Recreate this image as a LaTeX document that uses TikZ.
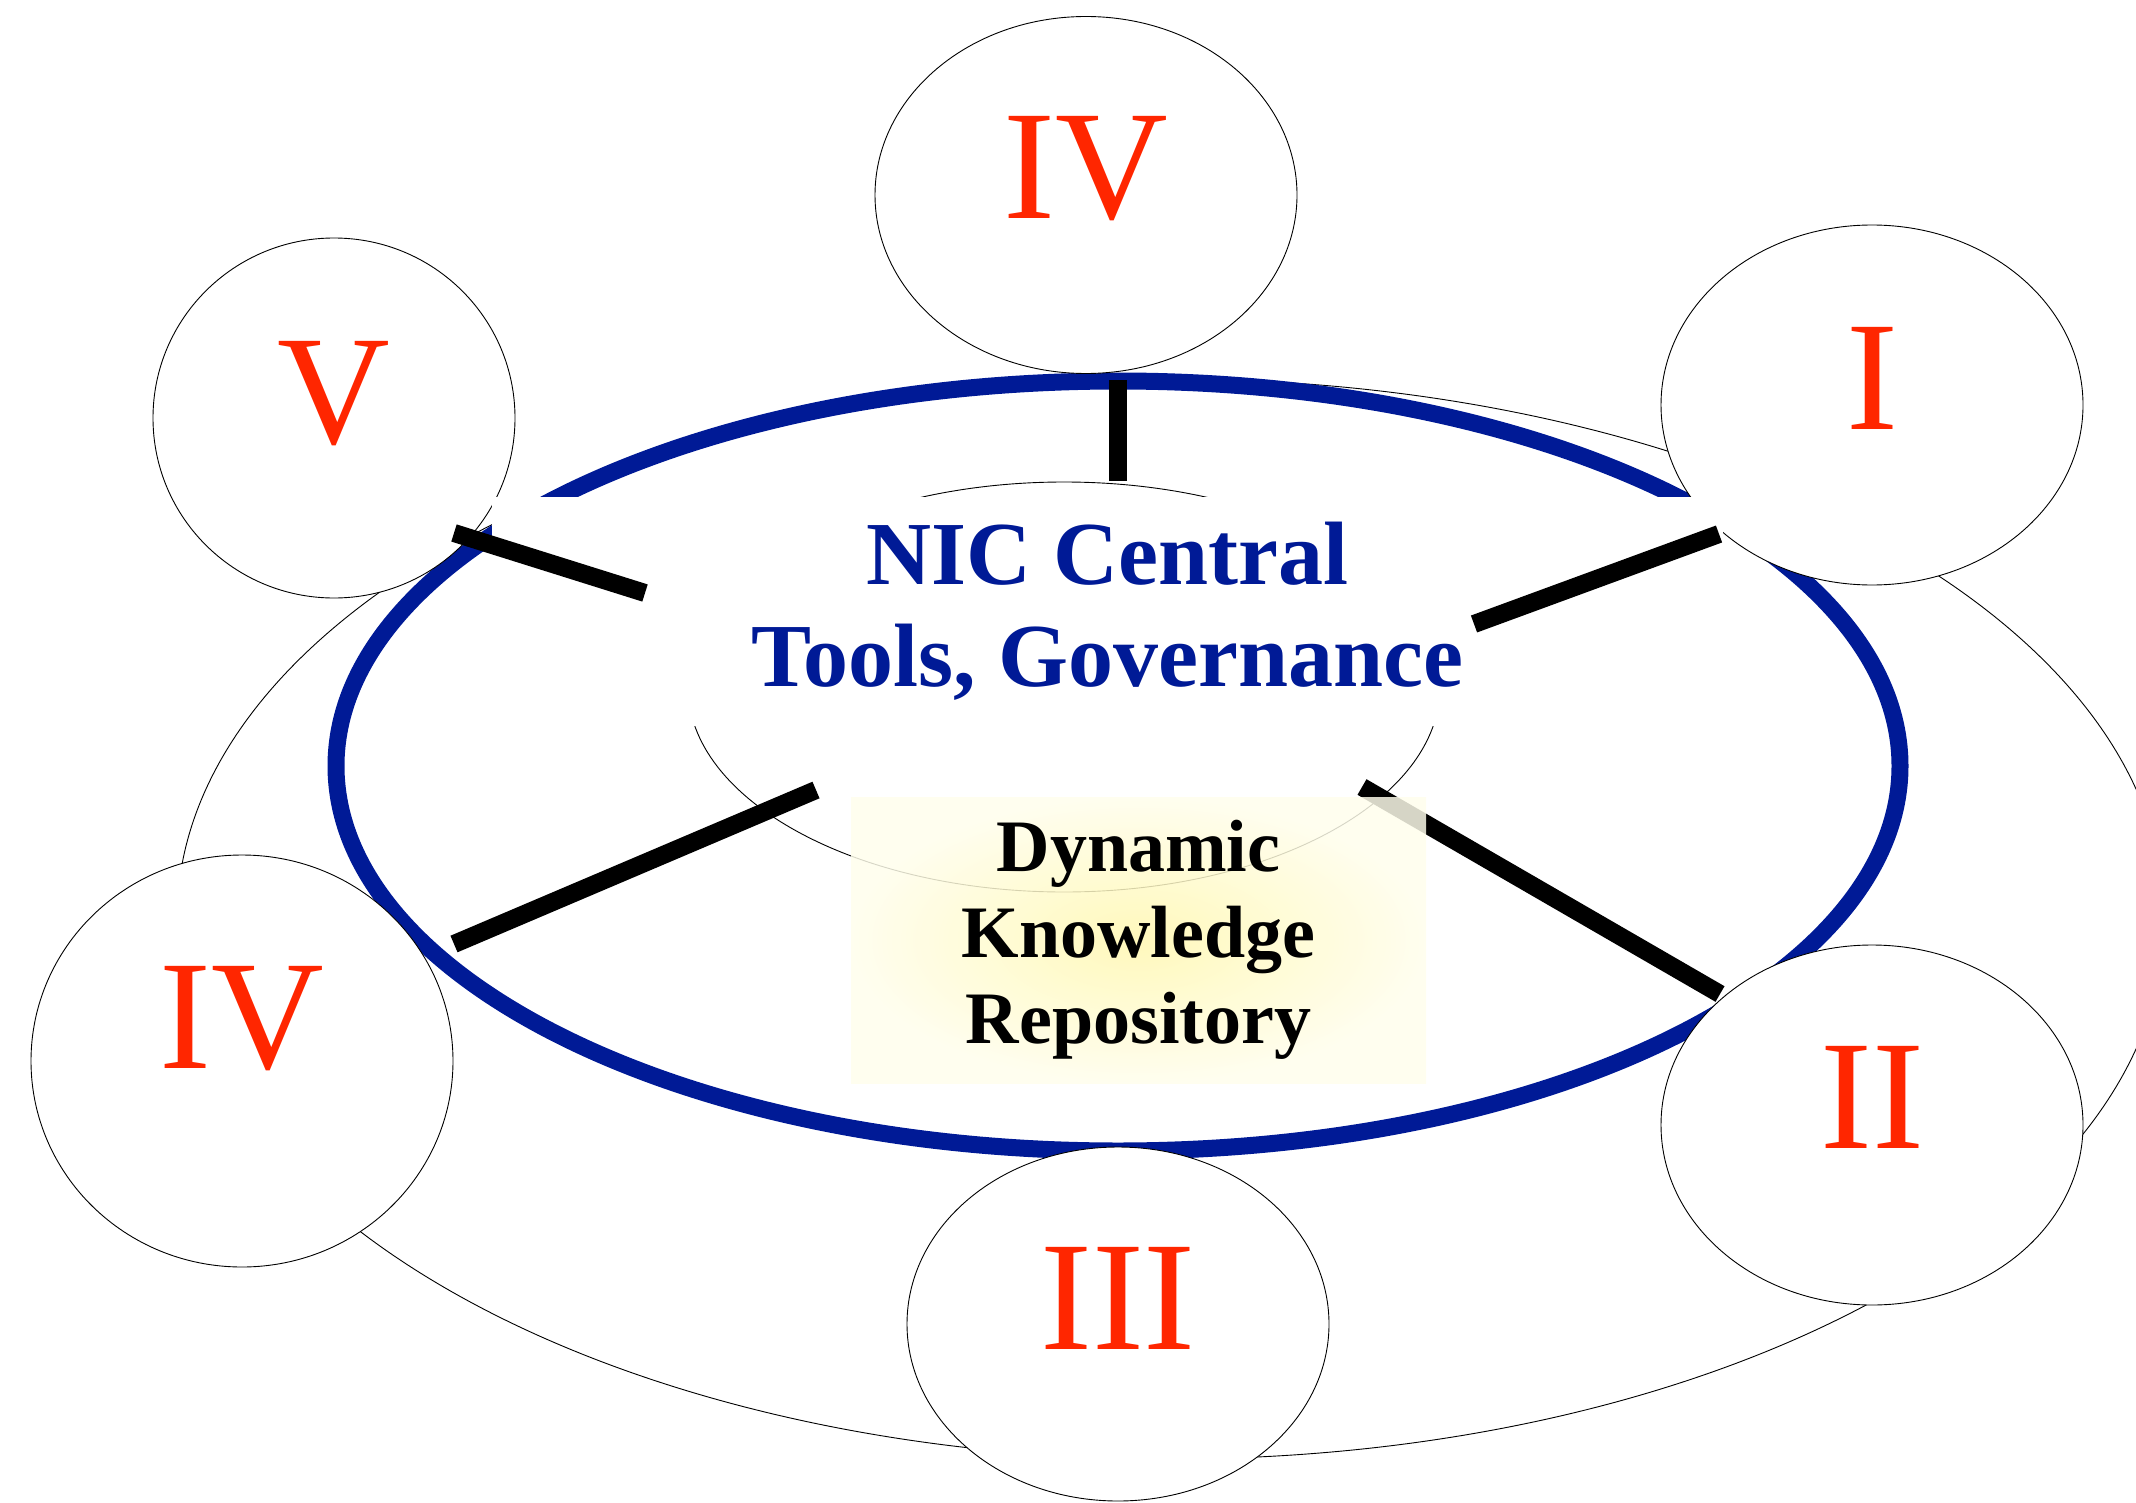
\documentclass[tikz,border=0pt]{standalone}
\usepackage{fontspec}
\setmainfont{Liberation Serif}
\usetikzlibrary{shapes.geometric}
\definecolor{numred}{RGB}{255,38,0}
\definecolor{nicblue}{RGB}{0,26,150}
\definecolor{dkrin}{RGB}{255,247,175}
\definecolor{dkrout}{RGB}{255,254,236}

\begin{document}
\begin{tikzpicture}[x=0.5pt,y=-0.5pt,
    ring/.style={ellipse, draw, fill=white, line width=0.45pt, inner sep=0pt,
        text=numred, font=\fontsize{78}{80}\selectfont},
    thinline/.style={line width=0.45pt},
    loopline/.style={line width=8.5pt, nicblue},
    spoke/.style={line width=9pt},
    nicbox/.style={rectangle, fill=white, inner sep=0pt, align=center, text=nicblue,
        font=\bfseries\fontsize{45}{51}\selectfont},
    dkrbox/.style={rectangle, inner sep=0pt, align=center, inner color=dkrin, outer color=dkrout,
        fill opacity=0.84, text opacity=1, font=\bfseries\fontsize{37}{43}\selectfont}]
    \useasboundingbox (0,0) rectangle (2136,1503);
    % outer ring and main loop
    \draw[thinline] (1171,919) ellipse [x radius=994, y radius=540];
    \draw[loopline] (1118,766) ellipse [x radius=782, y radius=385];
    % the six units
    \node[ring, minimum width=211pt, minimum height=178.5pt, text depth=28pt] (ivtop) at (1086,195) {IV};
    \node[ring, minimum width=181pt, minimum height=180pt, text depth=26pt] (v) at (334,418) {V};
    \node[ring, minimum width=211pt, minimum height=180pt, text depth=27pt] (i) at (1872,405) {I};
    \node[ring, minimum width=211pt, minimum height=206pt, text depth=44pt] (ivleft) at (242,1061) {IV};
    \node[ring, minimum width=211pt, minimum height=180pt, text depth=28pt] (ii) at (1872,1125) {II};
    \node[ring, minimum width=211pt, minimum height=177pt, text depth=26pt] (iii) at (1118,1324) {III};
    % centre
    \draw[thinline] (1064,687) ellipse [x radius=376, y radius=205];
    \node[nicbox, minimum width=615.5pt, minimum height=114.5pt] (nic) at (1107.5,611.5) {NIC Central\\Tools, Governance};
    \coordinate (t1) at (1118,380);  \coordinate (t2) at (1118,481);
    \coordinate (v1) at (454,533);   \coordinate (v2) at (645,593);
    \coordinate (i1) at (1719,534);  \coordinate (i2) at (1474,624);
    \coordinate (l1) at (454,944);   \coordinate (l2) at (816,790);
    \coordinate (r1) at (1720,994);  \coordinate (r2) at (1362,787);
    \draw[spoke] (t1) -- (t2);
    \draw[spoke] (v1) -- (v2);
    \draw[spoke] (i1) -- (i2);
    \draw[spoke] (l1) -- (l2);
    \draw[spoke] (r1) -- (r2);
    \node[dkrbox, minimum width=287.5pt, minimum height=143pt] (dkr) at (1138.5,940) {Dynamic\\Knowledge\\Repository};
\end{tikzpicture}
\end{document}
